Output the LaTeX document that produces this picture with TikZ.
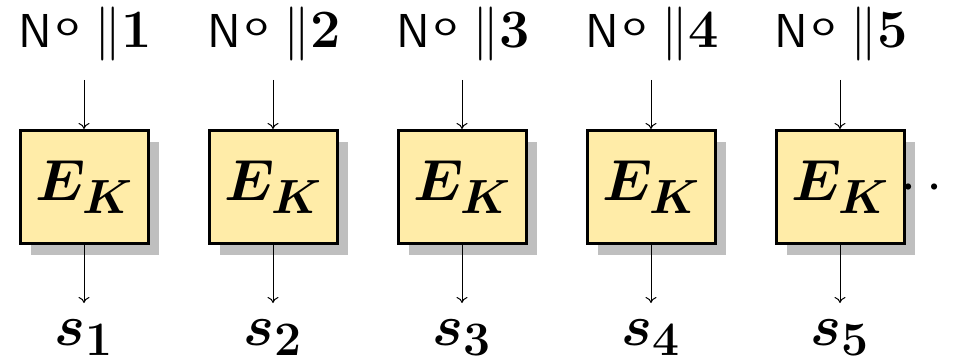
\RequirePackage{fix-cm}
\documentclass[tikz,border=0pt]{standalone}
\usepackage{fontspec}
\setsansfont{lmsans10-regular.otf}
\usepackage{amsmath,bm}
\usetikzlibrary{shadows,arrows.meta}
\DeclareMathSizes{29}{29}{24}{19}
\DeclareMathSizes{27}{27}{22}{18}
\definecolor{boxfill}{RGB}{255,236,168}
\definecolor{shadowgray}{RGB}{191,191,191}
\newcommand{\toplab}[1]{{\fontsize{23.8pt}{28pt}\selectfont\sffamily N\hspace{2.1pt}\raisebox{6.3pt}{\fontsize{18pt}{20pt}\selectfont\scalebox{1.27}[1]{o}}}\hspace{7.7pt}{\fontsize{27pt}{32pt}\selectfont$\|\bm{#1}$}}
\begin{document}
\begin{tikzpicture}[x=0.5pt,y=-0.5pt,
  ekbox/.style={draw=black, line width=1.5pt, fill=boxfill,
    minimum width=64pt, minimum height=56.5pt, inner sep=0pt,
    drop shadow={shadow xshift=5.5pt, shadow yshift=-5.5pt, fill=shadowgray, opacity=1},
    font=\fontsize{29pt}{34pt}\selectfont},
  toplabel/.style={anchor=base, inner sep=0pt},
  outlabel/.style={anchor=base, inner sep=0pt, font=\fontsize{29pt}{34pt}\selectfont},
  arr/.style={line width=0.5pt, -{Computer Modern Rightarrow[length=3pt, width=5.5pt]}},
  ]
\useasboundingbox (0,0) rectangle (956,358);
\foreach \i/\x in {1/84, 2/273, 3/462, 4/651, 5/840} {
  \node[ekbox] (b\i) at (\x,187) {$\bm{E_K}$};
  \node[toplabel] (t\i) at (\x+1.5,48) {\toplab{\i}};
  \coordinate (in\i) at (\x,80);
  \coordinate (out\i) at (\x,303);
  \node[outlabel] (s\i) at (\x,345) {$\bm{s_{\i}}$};
  \draw[arr] (in\i) -- (b\i.north);
  \draw[arr] (b\i.south) -- (out\i);
}
\node[anchor=base west, inner sep=0pt, font=\fontsize{29pt}{34pt}\selectfont] (dots) at ([xshift=-2.5pt,yshift=-7.25pt]b5.east) {$\cdots$};
\end{tikzpicture}
\end{document}
